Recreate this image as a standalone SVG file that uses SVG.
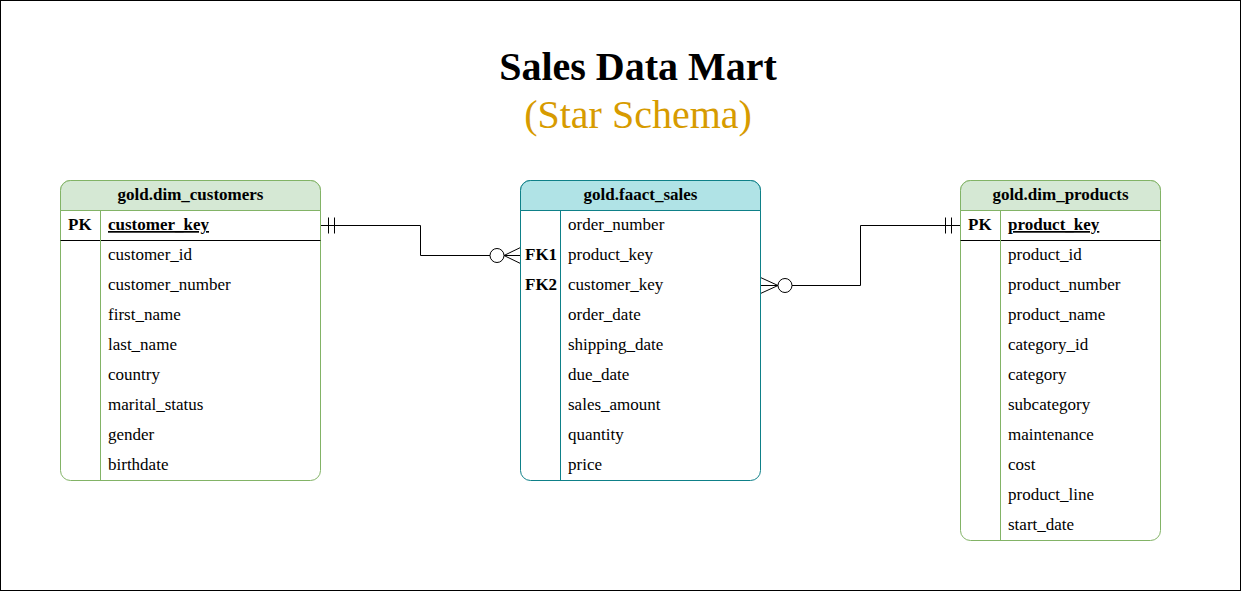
<svg xmlns="http://www.w3.org/2000/svg" width="1241" height="591" viewBox="0 0 1241 591">
<style>
.t{font-family:"Liberation Serif","Times New Roman",serif;font-size:17px;fill:#000}
.b{font-weight:bold}
.h{text-anchor:middle;font-weight:bold}
.title{font-family:"Liberation Serif","Times New Roman",serif;font-size:40px;text-anchor:middle}
.gbox{fill:#fff;stroke:#82b366;stroke-width:1}
.ghead{fill:#d5e8d4;stroke:#82b366;stroke-width:1}
.cbox{fill:#fff;stroke:#0e8088;stroke-width:1}
.chead{fill:#b0e3e6;stroke:#0e8088;stroke-width:1}
.ln{stroke:#000;stroke-width:1;fill:none}
</style>
<rect x="0.5" y="0.5" width="1240" height="590" fill="#fff" stroke="#000"/>
<text class="title b" x="638" y="80">Sales Data Mart</text>
<text class="title" x="638" y="128" fill="#d79b00">(Star Schema)</text>

<g id="connectors">
<path class="ln" d="M320.5 225.5 H420.5 V255.5 H490"/>
<line class="ln" x1="328.5" y1="217.5" x2="328.5" y2="233.5"/>
<line class="ln" x1="334.5" y1="217.5" x2="334.5" y2="233.5"/>
<circle class="ln" cx="497" cy="255.5" r="7" fill="#fff"/>
<path class="ln" d="M520.5 247.5 L504 255.5 L520.5 263.5 M504 255.5 H520.5"/>
<path class="ln" d="M792 285.5 H860.5 V225.5 H960.5"/>
<line class="ln" x1="945.5" y1="217.5" x2="945.5" y2="233.5"/>
<line class="ln" x1="951.5" y1="217.5" x2="951.5" y2="233.5"/>
<circle class="ln" cx="785" cy="285.5" r="7" fill="#fff"/>
<path class="ln" d="M760.5 277.5 L778 285.5 L760.5 293.5 M760.5 285.5 H778"/>
</g>

<g id="dim_customers">
<rect class="gbox" x="60.5" y="180.5" width="260" height="300" rx="10"/>
<path class="ghead" d="M60.5 210.5 V190.5 A10 10 0 0 1 70.5 180.5 H310.5 A10 10 0 0 1 320.5 190.5 V210.5 Z"/>
<line class="ln" x1="60.5" y1="240.5" x2="320.5" y2="240.5"/>
<line x1="100.5" y1="210.5" x2="100.5" y2="480.5" stroke="#82b366"/>
<text class="t h" x="190.5" y="200">gold.dim_customers</text>
<text class="t b" x="68" y="230">PK</text>
<text class="t b" x="108" y="230" text-decoration="underline">customer_key</text>
<text class="t" x="108" y="260">customer_id</text>
<text class="t" x="108" y="290">customer_number</text>
<text class="t" x="108" y="320">first_name</text>
<text class="t" x="108" y="350">last_name</text>
<text class="t" x="108" y="380">country</text>
<text class="t" x="108" y="410">marital_status</text>
<text class="t" x="108" y="440">gender</text>
<text class="t" x="108" y="470">birthdate</text>
</g>

<g id="fact_sales">
<rect class="cbox" x="520.5" y="180.5" width="240" height="300" rx="10"/>
<path class="chead" d="M520.5 210.5 V190.5 A10 10 0 0 1 530.5 180.5 H750.5 A10 10 0 0 1 760.5 190.5 V210.5 Z"/>
<line x1="560.5" y1="210.5" x2="560.5" y2="480.5" stroke="#0e8088"/>
<text class="t h" x="640.5" y="200">gold.faact_sales</text>
<text class="t" x="568" y="230">order_number</text>
<text class="t b" x="525" y="260">FK1</text>
<text class="t" x="568" y="260">product_key</text>
<text class="t b" x="525" y="290">FK2</text>
<text class="t" x="568" y="290">customer_key</text>
<text class="t" x="568" y="320">order_date</text>
<text class="t" x="568" y="350">shipping_date</text>
<text class="t" x="568" y="380">due_date</text>
<text class="t" x="568" y="410">sales_amount</text>
<text class="t" x="568" y="440">quantity</text>
<text class="t" x="568" y="470">price</text>
</g>

<g id="dim_products">
<rect class="gbox" x="960.5" y="180.5" width="200" height="360" rx="10"/>
<path class="ghead" d="M960.5 210.5 V190.5 A10 10 0 0 1 970.5 180.5 H1150.5 A10 10 0 0 1 1160.5 190.5 V210.5 Z"/>
<line class="ln" x1="960.5" y1="240.5" x2="1160.5" y2="240.5"/>
<line x1="1000.5" y1="210.5" x2="1000.5" y2="540.5" stroke="#82b366"/>
<text class="t h" x="1060.5" y="200">gold.dim_products</text>
<text class="t b" x="968" y="230">PK</text>
<text class="t b" x="1008" y="230" text-decoration="underline">product_key</text>
<text class="t" x="1008" y="260">product_id</text>
<text class="t" x="1008" y="290">product_number</text>
<text class="t" x="1008" y="320">product_name</text>
<text class="t" x="1008" y="350">category_id</text>
<text class="t" x="1008" y="380">category</text>
<text class="t" x="1008" y="410">subcategory</text>
<text class="t" x="1008" y="440">maintenance</text>
<text class="t" x="1008" y="470">cost</text>
<text class="t" x="1008" y="500">product_line</text>
<text class="t" x="1008" y="530">start_date</text>
</g>
</svg>
